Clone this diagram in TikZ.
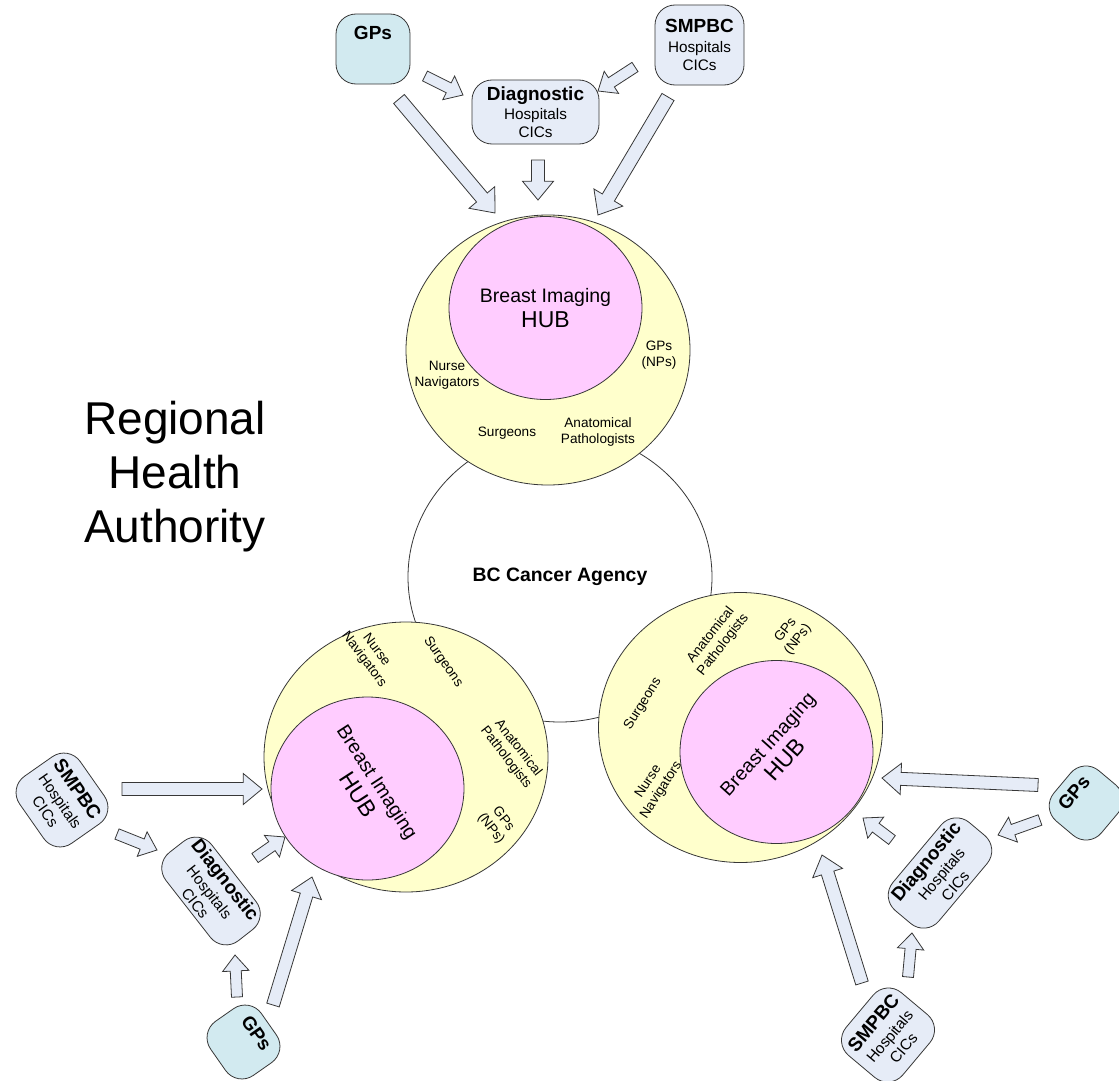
\documentclass[tikz,border=0pt]{standalone}
\usepackage{fontspec}
\setmainfont{Liberation Sans}
\usetikzlibrary{shapes,positioning,calc}
\definecolor{ringyellow}{RGB}{255,255,204}
\definecolor{hubpink}{RGB}{255,204,255}
\definecolor{boxblue}{RGB}{230,236,247}
\definecolor{gpcyan}{RGB}{210,234,240}
\definecolor{edgegray}{RGB}{55,55,55}

% bold first line of a source box
\newcommand\boxhead[1]{{\bfseries\fontsize{19}{19}\selectfont #1}}

% block arrow from tail #2 to tip #3, shaft width #1
\newcommand\fatarrow[3][14]{%
  \path (#2); \pgfgetlastxy{\fax}{\fay}%
  \path (#3); \pgfgetlastxy{\fbx}{\fby}%
  \pgfmathsetmacro\faang{atan2(\fby-\fay,\fbx-\fax)}%
  \pgfmathsetmacro\falen{veclen(\fbx-\fax,\fby-\fay)}%
  \pgfmathsetmacro\fahead{#1*1.2}%
  \pgfmathsetmacro\fabase{\falen-#1*1.45}%
  \begin{scope}[shift={(#2)},rotate=\faang,x=1pt,y=1pt]
    \draw[blockarrow] (0,-#1/2) -- (\fabase,-#1/2) -- (\fabase,-\fahead) -- (\falen,0)
      -- (\fabase,\fahead) -- (\fabase,#1/2) -- (0,#1/2) -- cycle;
  \end{scope}}

\begin{document}
\begin{tikzpicture}[x=1pt,y=-1pt,
	ring/.style={ellipse,draw=edgegray,line width=0.8pt,fill=ringyellow,minimum width=284pt,minimum height=270pt,inner sep=0pt},
	core/.style={ellipse,draw=edgegray,line width=0.8pt,fill=hubpink,minimum width=193pt,minimum height=183pt,inner sep=0pt},
	hubtext/.style={align=center,font=\fontsize{19.5}{24.5}\selectfont},
	staff/.style={align=center,font=\fontsize{13.6}{15.5}\selectfont},
	srcbox/.style={draw=edgegray,line width=0.8pt,fill=boxblue,rounded corners=20pt,align=center,inner sep=2pt,font=\fontsize{15.3}{18}\selectfont},
	gpbox/.style={srcbox,fill=gpcyan,text depth=32pt},
	blockarrow/.style={draw=edgegray,fill=boxblue,line width=0.8pt,line join=miter},
	]
	
	\fill[white] (0,0) rectangle (1119,1081);
	\useasboundingbox (0,0) rectangle (1119,1081);
	
	% the agency in the middle
	\node[ellipse,draw=edgegray,line width=0.8pt,fill=white,minimum width=304pt,minimum height=290pt,inner sep=0pt,
	      font=\bfseries\fontsize{19.4}{22}\selectfont] (bcca) at (560,577) {BC Cancer Agency};
	
	\node[align=center,font=\fontsize{46}{54}\selectfont] (rha) at (175,477) {Regional\\Health\\Authority};
	
	% the three hubs
	\node[ring] (ringT) at (548,350) {};
	\node[ring] (ringL) at (406,757) {};
	\node[ring] (ringR) at (740.5,727.5) {};
	\node[core] (coreT) at (545.5,308) {};
	\node[core] (coreL) at (367.5,788.5) {};
	\node[core] (coreR) at (776.5,752) {};
	
	\foreach \h/\a in {coreT/0,coreL/-57,coreR/48}
	\node[hubtext,rotate=\a] (\h-txt) at (\h) {Breast Imaging\\{\fontsize{23}{24.5}\selectfont HUB}};
	
	% staff round the hubs
	\node[staff] (nurseT) at (447,375) {Nurse\\Navigators};
	\node[staff] (gpnpT) at (659,355) {GPs\\(NPs)};
	\node[staff] (surgT) at (507,433) {Surgeons};
	\node[staff] (pathT) at (598,432) {Anatomical\\Pathologists};
	
	\node[staff,rotate=-53] (nurseL) at (370,655) {Nurse\\Navigators};
	\node[staff,rotate=-55] (surgL) at (443,662) {Surgeons};
	\node[staff,rotate=-52] (pathL) at (512,753) {Anatomical\\Pathologists};
	\node[staff,rotate=-52] (gpnpL) at (497,824) {GPs\\(NPs)};
	
	\node[staff,rotate=52] (pathR) at (717,640) {Anatomical\\Pathologists};
	\node[staff,rotate=52] (gpnpR) at (792,635) {GPs\\(NPs)};
	\node[staff,rotate=58] (surgR) at (643,704) {Surgeons};
	\node[staff,rotate=57] (nurseR) at (655,786) {Nurse\\Navigators};
	
	% referral sources
	\node[gpbox,minimum width=74pt,minimum height=70pt] (gpsT) at (373,49) {\boxhead{GPs}};
	\node[srcbox,minimum width=89pt,minimum height=80pt] (smpbcT) at (699.5,45) {\boxhead{SMPBC}\\[2pt]Hospitals\\CICs};
	\node[srcbox,minimum width=127pt,minimum height=64pt] (diagT) at (535.5,112) {\boxhead{Diagnostic}\\[1pt]Hospitals\\CICs};
	
	\node[srcbox,minimum width=82pt,minimum height=74pt,rotate=-55] (smpbcL) at (62,800) {\boxhead{SMPBC}\\[2pt]Hospitals\\CICs};
	\node[srcbox,minimum width=112pt,minimum height=58pt,rotate=-52] (diagL) at (211,891) {\boxhead{Diagnostic}\\[1pt]Hospitals\\CICs};
	\node[gpbox,minimum width=66pt,minimum height=62pt,rotate=-55] (gpsL) at (243.5,1042) {\boxhead{GPs}};
	
	\node[gpbox,minimum width=66pt,minimum height=62pt,rotate=50] (gpsR) at (1086,803) {\boxhead{GPs}};
	\node[srcbox,minimum width=115pt,minimum height=60pt,rotate=50] (diagR) at (940,873) {\boxhead{Diagnostic}\\[1pt]Hospitals\\CICs};
	\node[srcbox,minimum width=82pt,minimum height=74pt,rotate=50] (smpbcR) at (888,1035) {\boxhead{SMPBC}\\[2pt]Hospitals\\CICs};
	
	% arrow ends
	\foreach \n/\x/\y in {tGd1/425/76,tGd2/463/95,tSd1/635/67,tSd2/598/91,tDh1/538/160,tDh2/538/200,
		tGh1/399/99,tGh2/495/213,tSh1/668/97,tSh2/598/215,
		lSh1/122/789,lSh2/262/789,lSd1/117/834,lSd2/157/850,lDh1/255/858,lDh2/285/837,
		lGd1/237/997,lGd2/235/955,lGh1/273/1005,lGh2/312/877,
		rGh1/1038/785,rGh2/882/778,rGd1/1040/820,rGd2/998/835,rDh1/892/840,rDh2/863/818,
		rSd1/908/977,rSd2/912/933,rSh1/862/983,rSh2/822/855}
	\coordinate (\n) at (\x,\y);
	
	% referral arrows
	\foreach \a/\w in {tGd/11,tSd/11,tDh/13,tGh/14,tSh/14,
		lSh/13,lSd/11,lDh/11,lGd/11,lGh/13,
		rGh/13,rGd/11,rDh/11,rSd/11,rSh/13}
	\fatarrow[\w]{\a1}{\a2};
	
\end{tikzpicture}
\end{document}
